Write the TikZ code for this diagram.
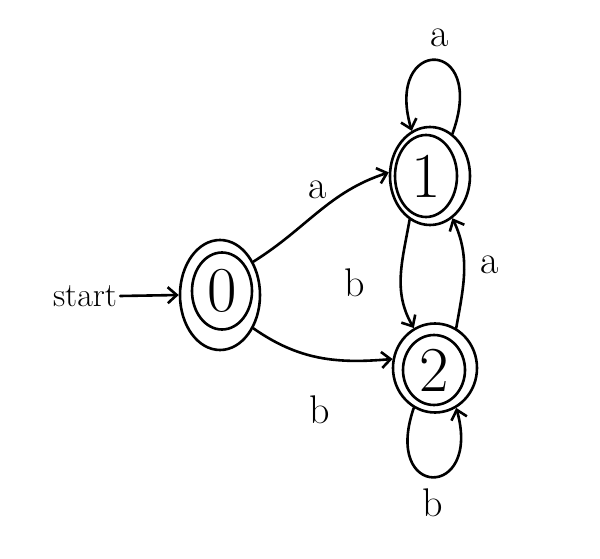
\documentclass[tikz,border=0pt]{standalone}
\usetikzlibrary{shapes.geometric,arrows.meta}
\begin{document}
\begin{tikzpicture}[x=1pt,y=1pt, line width=2.6pt, line cap=round, line join=round,
  outerring/.style={ellipse, draw, inner sep=0pt},
  innerring/.style={ellipse, draw, inner sep=0pt, font=\fontsize{64}{64}\selectfont},
  edge/.style={-{Straight Barb[length=9pt,width=16pt]}},
  lbl/.style={font=\fontsize{40}{40}\selectfont, inner sep=0pt}]
\useasboundingbox (0,0) rectangle (600,558);

% states: each is an outer ring with an inner ring carrying the number
\node[outerring, minimum width=80pt, minimum height=110pt] (q0) at (220,263) {};
\node[innerring, minimum width=60pt, minimum height=77pt] (q0in) at (222,267) {0};
\node[outerring, minimum width=80pt, minimum height=98pt] (q1) at (430,382) {};
\node[innerring, minimum width=62pt, minimum height=82pt] (q1in) at (426,382) {1};
\node[outerring, minimum width=84pt, minimum height=89pt] (q2) at (435,190) {};
\node[innerring, minimum width=62pt, minimum height=70pt] (q2in) at (434,188) {2};

% start marker
\node[font=\fontsize{34}{34}\selectfont, inner sep=2pt] (start) at (85,262) {start};
\draw[edge] (start.east) -- (q0.west);

% transitions between states
\draw[edge] (q0.45) to[out=32,in=198] (q1.175);
\node[lbl] (la01) at (318,368) {a};
\draw[edge] (q0.-45) to[out=-35,in=185] (q2.168);
\node[lbl] (lb02) at (320,148) {b};
\draw[edge] (q1.245) to[out=-100,in=120] (q2.118);
\node[lbl] (lb12) at (355,275) {b};
\draw[edge] (q2.62) to[out=80,in=-65] (q1.-62);
\node[lbl] (la21) at (490,293) {a};

% self loops
\draw[edge] (q1.62) .. controls (488,522) and (384,522) .. (q1.112);
\node[lbl] (la11) at (440,520) {a};
\draw[edge] (q2.-118) .. controls (382,58) and (482,58) .. (q2.-62);
\node[lbl] (lb22) at (433,55) {b};
\end{tikzpicture}
\end{document}
